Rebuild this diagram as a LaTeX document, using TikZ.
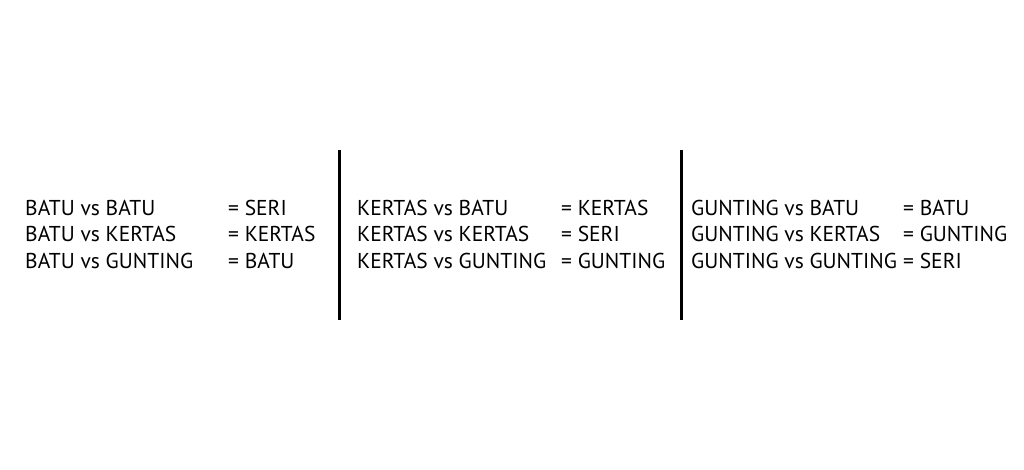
\documentclass[tikz,border=0pt]{standalone}
\usepackage{fontspec}
\setmainfont{PT Sans}
\usetikzlibrary{positioning}

\begin{document}
\begin{tikzpicture}[x=1pt,y=-1pt,
    match/.style={anchor=base west,inner sep=0pt,font=\fontsize{21.5}{25}\selectfont},
    result/.style={anchor=base west,inner sep=0pt,font=\fontsize{21.5}{25}\selectfont},
    divider/.style={line width=2.7pt}]
\useasboundingbox (0,0) rectangle (1024,469);
% batu
\node[match] (bb) at (25,215) {BATU vs BATU};
\node[match] (bk) at (25,241.7) {BATU vs KERTAS};
\node[match] (bg) at (25,268.3) {BATU vs GUNTING};
\node[result] (bbres) at (228,215) {= SERI};
\node[result] (bkres) at (228,241.7) {= KERTAS};
\node[result] (bgres) at (228,268.3) {= BATU};
% kertas
\node[match] (kb) at (357,215) {KERTAS vs BATU};
\node[match] (kk) at (357,241.7) {KERTAS vs KERTAS};
\node[match] (kg) at (357,268.3) {KERTAS vs GUNTING};
\node[result] (kbres) at (561,215) {= KERTAS};
\node[result] (kkres) at (561,241.7) {= SERI};
\node[result] (kgres) at (561,268.3) {= GUNTING};
% gunting
\node[match] (gb) at (691,215) {GUNTING vs BATU};
\node[match] (gk) at (691,241.7) {GUNTING vs KERTAS};
\node[match] (gg) at (691,268.3) {GUNTING vs GUNTING};
\node[result] (gbres) at (903,215) {= BATU};
\node[result] (gkres) at (903,241.7) {= GUNTING};
\node[result] (ggres) at (903,268.3) {= SERI};
% dividers
\coordinate (lonetop) at (339.5,150);
\coordinate (lonebot) at (339.5,320);
\coordinate (ltwotop) at (681.5,150);
\coordinate (ltwobot) at (681.5,320);
\draw[divider] (lonetop) -- (lonebot);
\draw[divider] (ltwotop) -- (ltwobot);
\end{tikzpicture}
\end{document}
